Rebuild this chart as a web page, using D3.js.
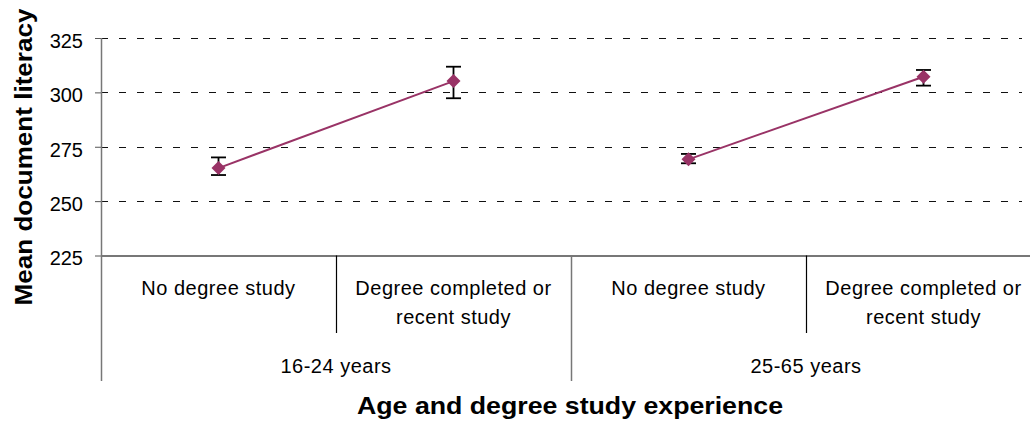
<!DOCTYPE html>
<html><head><meta charset="utf-8">
<script src="https://cdn.jsdelivr.net/npm/d3@7"></script>
<style>
html,body{margin:0;padding:0;background:#fff;}
svg{display:block;font-family:"Liberation Sans",Arial,sans-serif;}
</style></head>
<body><svg id="c" width="1030" height="423"></svg>
<script>
const groups = ["16-24 years", "25-65 years"];
const categories = ["No degree study", "Degree completed or recent study"];
const categoryLines = [["No degree study"], ["Degree completed or", "recent study"]];
const means = [265.2, 305.2, 269.2, 307.2];
const lower = [262.0, 297.3, 267.4, 303.1];
const upper = [270.1, 311.8, 271.7, 310.3];
const yTicks = [225, 250, 275, 300, 325];
const yTitle = "Mean document literacy";
const xTitle = "Age and degree study experience";

(function () {
const svg = d3.select("#c");
const pLeft = 101, pRight = 1041, pTop = 38, pBottom = 255.5;
const keys = [];
groups.forEach((g, gi) => categories.forEach((c, ci) => keys.push(gi + "|" + ci)));
const x = d3.scaleBand().domain(keys).range([pLeft, pRight]).paddingInner(0).paddingOuter(0);
const y = d3.scaleLinear().domain([225, 325]).range([pBottom, pTop]);
const gx = d3.scaleBand().domain(groups).range([pLeft, pRight]);

// gridlines
svg.append("g").selectAll("line").data(yTicks.filter(t => t > 225)).join("line")
  .attr("x1", pLeft).attr("x2", 1022)
  .attr("y1", d => Math.round(y(d)) + 0.5).attr("y2", d => Math.round(y(d)) + 0.5)
  .attr("stroke", "#111").attr("stroke-width", 1.2).attr("stroke-dasharray", "7,11");

// y axis ticks & labels
const ya = d3.axisLeft(y).tickValues(yTicks).tickSize(6).tickPadding(12);
const yg = svg.append("g").attr("transform", `translate(${pLeft},0)`).call(ya);
yg.select(".domain").remove();
yg.selectAll(".tick line").attr("stroke", "#555");
yg.selectAll(".tick text").attr("font-size", 20).attr("fill", "#000")
  .attr("font-family", '"Liberation Sans",Arial,sans-serif').attr("dy", "0.47em");

// axes lines
svg.append("line").attr("x1", pLeft + 0.5).attr("x2", pLeft + 0.5).attr("y1", pTop).attr("y2", 381)
  .attr("stroke", "#777").attr("stroke-width", 1.5);
svg.append("line").attr("x1", pLeft).attr("x2", 1030).attr("y1", pBottom + 0.5).attr("y2", pBottom + 0.5)
  .attr("stroke", "#777").attr("stroke-width", 1.8);

// category separators (within groups)
svg.append("g").selectAll("line").data(groups).join("line")
  .attr("x1", d => gx(d) + gx.bandwidth() / 2 + 0.5).attr("x2", d => gx(d) + gx.bandwidth() / 2 + 0.5)
  .attr("y1", pBottom).attr("y2", 333).attr("stroke", "#000").attr("stroke-width", 1.2);
// group separators
svg.append("g").selectAll("line").data(groups.slice(1)).join("line")
  .attr("x1", d => gx(d) + 0.5).attr("x2", d => gx(d) + 0.5)
  .attr("y1", pBottom).attr("y2", 381).attr("stroke", "#777").attr("stroke-width", 1.5);

// category labels
const cl = svg.append("g").attr("font-size", 20).attr("letter-spacing", 0.5).attr("text-anchor", "middle");
keys.forEach((k, i) => {
  const ci = i % categories.length;
  const cx = x(k) + x.bandwidth() / 2;
  const t = cl.append("text").attr("x", cx).attr("y", 294.5);
  categoryLines[ci].forEach((ln, li) => {
    t.append("tspan").attr("x", cx).attr("dy", li === 0 ? 0 : 29.5).text(ln);
  });
});
// group labels
svg.append("g").selectAll("text").data(groups).join("text")
  .attr("x", d => gx(d) + gx.bandwidth() / 2)
  .attr("y", 372.5).attr("font-size", 20).attr("letter-spacing", 0.5).attr("text-anchor", "middle")
  .text(d => d);

// series lines per group
const line = d3.line().x(d => x(d.k) + x.bandwidth() / 2).y(d => y(d.v));
groups.forEach((g, gi) => {
  const pts = categories.map((c, ci) => ({k: gi + "|" + ci, v: means[gi * categories.length + ci]}));
  svg.append("path").attr("d", line(pts)).attr("fill", "none").attr("stroke", "#993366").attr("stroke-width", 2);
});

// error bars
const eb = svg.append("g").attr("stroke", "#000").attr("stroke-width", 1.8);
keys.forEach((k, i) => {
  const cx = x(k) + x.bandwidth() / 2;
  eb.append("line").attr("x1", cx).attr("x2", cx).attr("y1", y(upper[i])).attr("y2", y(lower[i]));
  eb.append("line").attr("x1", cx - 7.5).attr("x2", cx + 7.5).attr("y1", y(upper[i])).attr("y2", y(upper[i]));
  eb.append("line").attr("x1", cx - 7.5).attr("x2", cx + 7.5).attr("y1", y(lower[i])).attr("y2", y(lower[i]));
});

// markers
svg.append("g").selectAll("path").data(keys).join("path")
  .attr("transform", (k, i) => `translate(${x(k) + x.bandwidth() / 2},${y(means[i])})`)
  .attr("d", "M0,-7L7,0L0,7L-7,0Z").attr("fill", "#993366");

// titles
svg.append("text").attr("transform", "translate(32,157) rotate(-90)")
  .attr("text-anchor", "middle").attr("font-weight", "bold").attr("font-size", 24)
  .attr("textLength", 297).attr("lengthAdjust", "spacingAndGlyphs").text(yTitle);
svg.append("text").attr("x", 570).attr("y", 414)
  .attr("text-anchor", "middle").attr("font-weight", "bold").attr("font-size", 24)
  .attr("textLength", 426).attr("lengthAdjust", "spacingAndGlyphs").text(xTitle);
})();
</script></body></html>
